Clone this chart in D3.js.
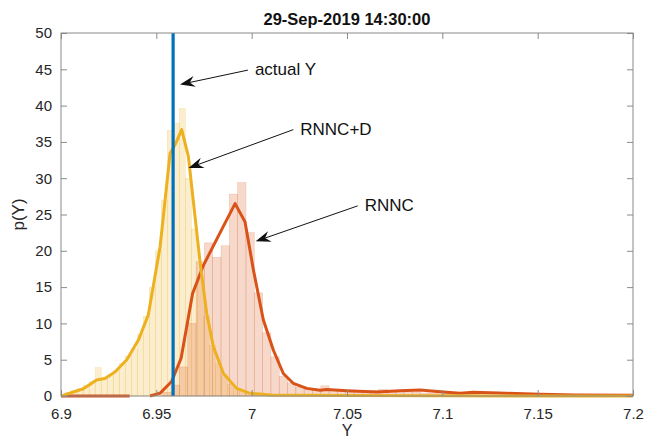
<!DOCTYPE html>
<html><head><meta charset="utf-8">
<script src="https://cdn.jsdelivr.net/npm/d3@7"></script>
<style>
html,body{margin:0;padding:0;background:#fff;}
svg{display:block;font-family:"Liberation Sans",Arial,Helvetica,sans-serif;}
</style></head>
<body>
<svg id="chart" width="645" height="441"></svg>
<script>
// ---------- data ----------
const titleText = "29-Sep-2019 14:30:00";
const xLabel = "Y";
const yLabel = "p(Y)";
const xTicks = [6.9, 6.95, 7, 7.05, 7.1, 7.15, 7.2];
const xTickLabels = ["6.9", "6.95", "7", "7.05", "7.1", "7.15", "7.2"];
const yTicks = [0, 5, 10, 15, 20, 25, 30, 35, 40, 45, 50];
const actualY = 6.9588;

// Histogram of RNNC+D samples (yellow)
const histDStart = 6.9022;
const histDWidth = 0.00315;
const histDHeights = [0.5, 0.8, 1.0, 1.5, 2.0, 3.9, 2.5, 2.8, 3.5, 4.5, 5.5, 6.5, 8.5, 11, 15, 20, 27,
  36.6, 37.6, 39.6, 30, 23, 16, 11, 7, 4.5, 2.8, 1.6, 1.0, 0.6, 0.4, 0.3, 0.3, 0.2, 0.2, 0.1];

// Histogram of RNNC samples (red)
const histCStart = 6.9534;
const histCWidth = 0.00436;
const histCHeights = [0.5, 1.5, 4, 10, 18.5, 21.1, 19.1, 20.7, 27.8, 29.4, 22.5, 14.2, 8.7, 5.4, 2.7, 1.8,
  1.2, 1.0, 0.8, 1.4, 0.9, 0.6, 0.5, 0.5, 0.6, 0.8, 0.9, 0.7, 0.6, 0.8, 0.5, 0.4, 0.4, 0.3, 0.3, 0.2, 0.2, 0.2, 0.1, 0.1, 0.1, 0.1, 0.1, 0.1, 0.1];

// Density curve RNNC+D (yellow)
const kdeDX = [6.9, 6.9117, 6.9187, 6.923, 6.9283, 6.9345, 6.9406, 6.9458, 6.952, 6.9572, 6.9598, 6.9633,
  6.9668, 6.973, 6.9764, 6.9799, 6.9852, 6.9921, 6.9992, 7.01, 7.03, 7.05, 7.1, 7.15, 7.2];
const kdeDY = [0, 1.0, 2.2, 2.4, 3.3, 5.0, 7.7, 11.2, 20.6, 33.4, 34.6, 36.7,
  33, 18.3, 11.4, 6.8, 3.1, 1.05, 0.37, 0.15, 0.1, 0.08, 0.03, 0.01, 0];

// Density curve RNNC (red); null marks the gap in the drawn line
const kdeCX = [6.9, 6.936, null, 6.9467, 6.952, 6.958, 6.963, 6.969, 6.9747, 6.985, 6.9913, 6.9965, 6.9991,
  7.0009, 7.0061, 7.0114, 7.0166, 7.0218, 7.0289, 7.0359, 7.0394, 7.0499, 7.0656, 7.0778, 7.0883, 7.0988,
  7.1093, 7.1162, 7.1337, 7.1512, 7.17, 7.2];
const kdeCY = [0, 0, null, 0, 0.4, 2.0, 5.2, 14.1, 18.0, 23.3, 26.5, 24.0, 20.1,
  17.4, 10.5, 6.3, 3.1, 1.75, 1.05, 0.8, 0.9, 0.73, 0.55, 0.73, 0.83, 0.6,
  0.37, 0.5, 0.37, 0.23, 0.14, 0.1];

// Annotations: text, text anchor point (data), arrow tip (data)
const annText = ["actual Y", "RNNC+D", "RNNC"];
const annTextX = [7.0017, 7.0255, 7.0593];
const annTextY = [44.2, 36.0, 25.5];
const annTipX = [6.9624, 6.9669, 7.0021];
const annTipY = [42.9, 31.4, 21.3];

// ---------- layout ----------
const W = 645, H = 441;
const m = {left: 61, top: 33, right: 12, bottom: 45};
const iw = 633 - m.left, ih = 396 - m.top;
const svg = d3.select("#chart");
const g = svg.append("g").attr("transform", `translate(${m.left},${m.top})`);

const x = d3.scaleLinear().domain([6.9, 7.2]).range([0, iw]);
const y = d3.scaleLinear().domain([0, 50]).range([ih, 0]);

const clip = svg.append("defs").append("clipPath").attr("id", "clip")
  .append("rect").attr("x", 0).attr("y", -2).attr("width", iw).attr("height", ih + 4);
const plot = g.append("g").attr("clip-path", "url(#clip)");

function bars(start, width, heights, color, op) {
  const d = heights.map((h, i) => ({x0: start + i * width, x1: start + (i + 1) * width, h}));
  plot.append("g").selectAll("rect").data(d).join("rect")
    .attr("x", b => x(b.x0))
    .attr("width", b => x(b.x1) - x(b.x0))
    .attr("y", b => y(b.h))
    .attr("height", b => y(0) - y(b.h))
    .attr("fill", color).attr("fill-opacity", op)
    .attr("stroke", color).attr("stroke-opacity", 0.25).attr("stroke-width", 0.6);
}
bars(histDStart, histDWidth, histDHeights, "#EDB120", 0.22);
bars(histCStart, histCWidth, histCHeights, "#D95319", 0.22);

function curve(xs, ys, color) {
  const pts = xs.map((v, i) => [v, ys[i]]);
  const line = d3.line().defined(p => p[0] !== null).x(p => x(p[0])).y(p => y(p[1]));
  plot.append("path").attr("d", line(pts)).attr("fill", "none")
    .attr("stroke", color).attr("stroke-width", 3).attr("stroke-linejoin", "round");
}
curve(kdeCX, kdeCY, "#D95319");
curve(kdeDX, kdeDY, "#EDB120");

plot.append("line")
  .attr("x1", x(actualY)).attr("x2", x(actualY))
  .attr("y1", y(0)).attr("y2", y(50))
  .attr("stroke", "#0072BD").attr("stroke-width", 3.2);

// ---------- axes box & ticks ----------
const axCol = "#8a8a8a";
const tl = 6;
g.append("rect").attr("x", 0).attr("y", 0).attr("width", iw).attr("height", ih)
  .attr("fill", "none").attr("stroke", axCol).attr("stroke-width", 1);

const xAxisB = d3.axisBottom(x).tickValues(xTicks).tickFormat((d, i) => xTickLabels[i]).tickSizeInner(-tl).tickSizeOuter(0).tickPadding(tl + 6);
const gx = g.append("g").attr("transform", `translate(0,${ih})`).call(xAxisB);
const xAxisT = d3.axisTop(x).tickValues(xTicks).tickFormat("").tickSizeInner(-tl).tickSizeOuter(0);
const gxt = g.append("g").call(xAxisT);
const yAxisL = d3.axisLeft(y).tickValues(yTicks).tickSizeInner(-tl).tickSizeOuter(0).tickPadding(tl + 3);
const gy = g.append("g").call(yAxisL);
const yAxisR = d3.axisRight(y).tickValues(yTicks).tickFormat("").tickSizeInner(-tl).tickSizeOuter(0);
const gyr = g.append("g").attr("transform", `translate(${iw},0)`).call(yAxisR);
[gx, gxt, gy, gyr].forEach(a => {
  a.select(".domain").remove();
  a.selectAll(".tick line").attr("stroke", axCol);
  a.selectAll(".tick text").attr("fill", "#262626").style("font-size", "15px")
    .style("font-family", "'Liberation Sans', Arial, sans-serif");
});

// ---------- labels ----------
svg.append("text").attr("x", m.left + iw / 2).attr("y", 25).attr("text-anchor", "middle")
  .style("font-size", "16.5px").style("font-weight", "bold").attr("fill", "#111").text(titleText);
svg.append("text").attr("x", m.left + iw / 2).attr("y", 436).attr("text-anchor", "middle")
  .style("font-size", "16px").attr("fill", "#262626").text(xLabel);
svg.append("text").attr("transform", `translate(24,${m.top + ih / 2}) rotate(-90)`).attr("text-anchor", "middle")
  .style("font-size", "17px").attr("fill", "#262626").text(yLabel);

// ---------- annotations ----------
const ann = g.append("g");
annText.forEach((t, i) => {
  const tx = x(annTextX[i]), ty = y(annTextY[i]);
  const px = x(annTipX[i]), py = y(annTipY[i]);
  const sx = tx - 7, sy = ty - 5;
  ann.append("text").attr("x", tx).attr("y", ty).style("font-size", "17px").attr("fill", "#111").text(t);
  const ang = Math.atan2(py - sy, px - sx);
  const L = 15, hw = 5.5, notch = 10;
  const ux = Math.cos(ang), uy = Math.sin(ang);
  const bx = px - ux * L, by = py - uy * L;
  const nx = px - ux * notch, ny = py - uy * notch;
  ann.append("line").attr("x1", sx).attr("y1", sy).attr("x2", nx).attr("y2", ny)
    .attr("stroke", "#111").attr("stroke-width", 1);
  const pts = [[px, py], [bx - uy * hw, by + ux * hw], [nx, ny], [bx + uy * hw, by - ux * hw]];
  ann.append("polygon").attr("points", pts.map(p => p.join(",")).join(" ")).attr("fill", "#111");
});
</script>
</body></html>
